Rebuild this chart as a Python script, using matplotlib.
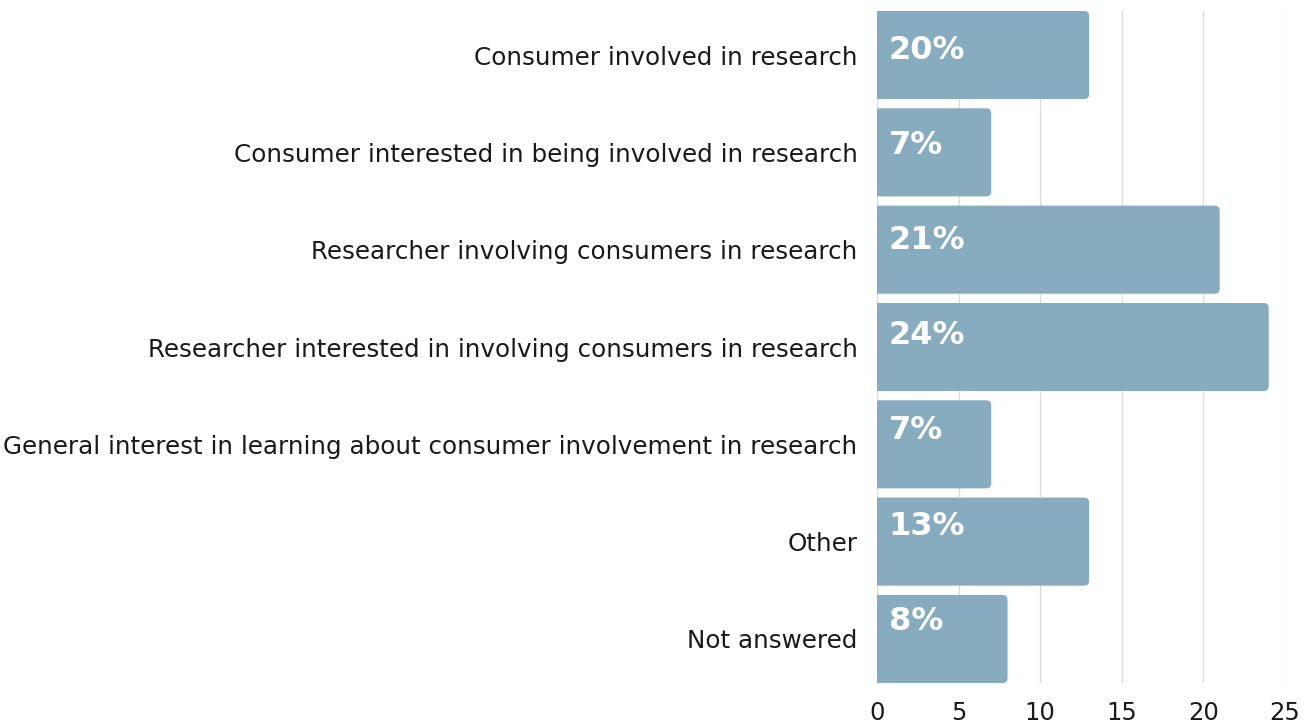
import matplotlib
matplotlib.use("Agg")
import matplotlib.pyplot as plt
from matplotlib.patches import FancyBboxPatch
from matplotlib.transforms import offset_copy

categories = [
    "Consumer involved in research",
    "Consumer interested in being involved in research",
    "Researcher involving consumers in research",
    "Researcher interested in involving consumers in research",
    "General interest in learning about consumer involvement in research",
    "Other",
    "Not answered",
]
values = [13, 7, 21, 24, 7, 13, 8]
pct_labels = ["20%", "7%", "21%", "24%", "7%", "13%", "8%"]
xticks = [0, 5, 10, 15, 20, 25]

bar_color = "#87abbf"

fig = plt.figure(figsize=(13.09, 7.26), dpi=100)
ax = fig.add_axes([877 / 1309, 1 - 683 / 726, (1285 - 877) / 1309, (683 - 11) / 726])

h = 0.905
ypos = list(range(len(categories)))
bars = ax.barh(ypos, values, height=h, color=bar_color)
ax.set_xlim(0, 25)
ax.set_ylim(len(categories) - 1 + h / 2, -h / 2)

# replace with rounded bars
xpx = (1285 - 877) / 25.0
ypx = 97.3
for b in bars:
    x0, y0 = b.get_x(), b.get_y()
    w, hh = b.get_width(), b.get_height()
    b.set_visible(False)
    r = 5.0 / xpx
    p = FancyBboxPatch((x0 - 1, y0), w + 1, hh,
                       boxstyle=f"round,pad=0,rounding_size={r}",
                       mutation_aspect=xpx / ypx,
                       facecolor=bar_color, edgecolor="none", zorder=2,
                       clip_on=True)
    ax.add_patch(p)

for i, (y, lab) in enumerate(zip(ypos, pct_labels)):
    tr = offset_copy(ax.transData, fig=fig, x=0, y=(5 + 2.1 * i) * 0.72, units="points")
    ax.text(0.72, y, lab, color="white", fontsize=23, fontweight="bold",
            family=["DejaVu Sans"], va="center", ha="left", zorder=3, transform=tr)

ax.set_xticks(xticks)
ax.set_yticks(ypos)
ax.set_yticklabels(categories, fontsize=17.7, family=["DejaVu Sans"], color="#1a1a1a")
for t in ax.get_xticklabels():
    t.set_fontsize(17.5)
    t.set_family(["DejaVu Sans"])
    t.set_color("#1a1a1a")
ax.tick_params(axis="both", length=0)
ax.tick_params(axis="y", pad=14)
ax.tick_params(axis="x", pad=13)
ax.grid(axis="x", color="#dddddd", linewidth=1)
ax.set_axisbelow(True)
for s in ax.spines.values():
    s.set_visible(False)

fig.savefig("out.png", dpi=100)
